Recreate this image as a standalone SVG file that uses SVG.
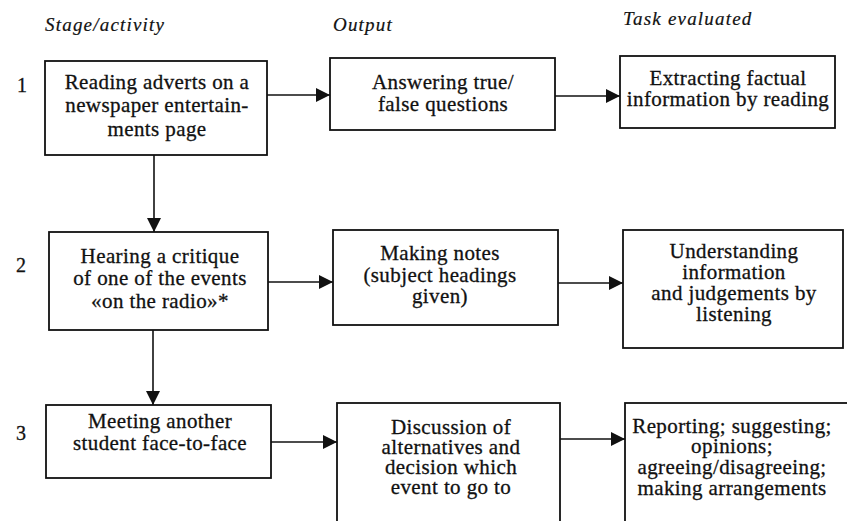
<svg xmlns="http://www.w3.org/2000/svg" width="847" height="521" viewBox="0 0 847 521">
<style>
  .box { fill: #ffffff; stroke: #111111; stroke-width: 1.8; }
  text { font-family: 'Liberation Serif', 'Times New Roman', serif; fill: #111111; stroke: #111111; stroke-width: 0.3px; }
  .t { font-size: 21px; text-anchor: middle; letter-spacing: 0.4px; }
  .h { font-size: 19px; font-style: italic; letter-spacing: 1.2px; stroke-width: 0.2px; }
  .n { font-size: 20px; }
  .c { stroke: #111111; stroke-width: 1.6; fill: none; marker-end: url(#ah); }
</style>
<defs>
  <marker id="ah" markerUnits="userSpaceOnUse" markerWidth="15" markerHeight="14" refX="14" refY="7" orient="auto">
    <path d="M0,0 L14,7 L0,14 z" fill="#111111"/>
  </marker>
</defs>
<rect width="847" height="521" fill="#ffffff"/>

<g id="headers">
  <text class="h" x="45" y="31">Stage/activity</text>
  <text class="h" x="333" y="31">Output</text>
  <text class="h" x="623" y="25">Task evaluated</text>
</g>
<g id="numbers">
  <text class="n" x="17" y="92">1</text>
  <text class="n" x="16" y="272">2</text>
  <text class="n" x="16" y="440">3</text>
</g>

<g id="connectors">
  <line class="c" x1="267" y1="95" x2="330" y2="95"/>
  <line class="c" x1="555" y1="96" x2="620" y2="96"/>
  <line class="c" x1="268" y1="282" x2="333" y2="282"/>
  <line class="c" x1="558" y1="283" x2="623" y2="283"/>
  <line class="c" x1="271" y1="442" x2="337" y2="442"/>
  <line class="c" x1="560" y1="439" x2="625" y2="439"/>
  <line class="c" x1="154" y1="155" x2="154" y2="232"/>
  <line class="c" x1="153" y1="330" x2="153" y2="405"/>
</g>

<g id="s1">
  <rect class="box" x="45" y="61" width="222" height="94"/>
  <text class="t" x="157" y="89">Reading adverts on a</text>
  <text class="t" x="157" y="112">newspaper entertain-</text>
  <text class="t" x="157" y="136">ments page</text>
</g>
<g id="o1">
  <rect class="box" x="330" y="58" width="225" height="72"/>
  <text class="t" x="443" y="89">Answering true/</text>
  <text class="t" x="443" y="111">false questions</text>
</g>
<g id="t1">
  <rect class="box" x="620" y="56" width="215" height="72"/>
  <text class="t" x="728" y="85">Extracting factual</text>
  <text class="t" x="728" y="106">information by reading</text>
</g>

<g id="s2">
  <rect class="box" x="49" y="232" width="219" height="98"/>
  <text class="t" x="160" y="263">Hearing a critique</text>
  <text class="t" x="160" y="285">of one of the events</text>
  <text class="t" x="160" y="308">«on the radio»*</text>
</g>
<g id="o2">
  <rect class="box" x="333" y="230" width="225" height="95"/>
  <text class="t" x="440" y="260">Making notes</text>
  <text class="t" x="440" y="282">(subject headings</text>
  <text class="t" x="440" y="303">given)</text>
</g>
<g id="t2">
  <rect class="box" x="623" y="230" width="220" height="118"/>
  <text class="t" x="734" y="258">Understanding</text>
  <text class="t" x="734" y="279">information</text>
  <text class="t" x="734" y="300">and judgements by</text>
  <text class="t" x="734" y="321">listening</text>
</g>

<g id="s3">
  <rect class="box" x="46" y="405" width="225" height="73"/>
  <text class="t" x="160" y="428">Meeting another</text>
  <text class="t" x="160" y="450">student face-to-face</text>
</g>
<g id="o3">
  <rect class="box" x="337" y="403" width="223" height="130"/>
  <text class="t" x="451" y="434">Discussion of</text>
  <text class="t" x="451" y="454">alternatives and</text>
  <text class="t" x="451" y="474">decision which</text>
  <text class="t" x="451" y="494">event to go to</text>
</g>
<g id="t3">
  <rect class="box" x="625" y="403" width="225" height="130"/>
  <text class="t" x="732" y="433">Reporting; suggesting;</text>
  <text class="t" x="732" y="453">opinions;</text>
  <text class="t" x="732" y="474">agreeing/disagreeing;</text>
  <text class="t" x="732" y="495">making arrangements</text>
</g>
</svg>
